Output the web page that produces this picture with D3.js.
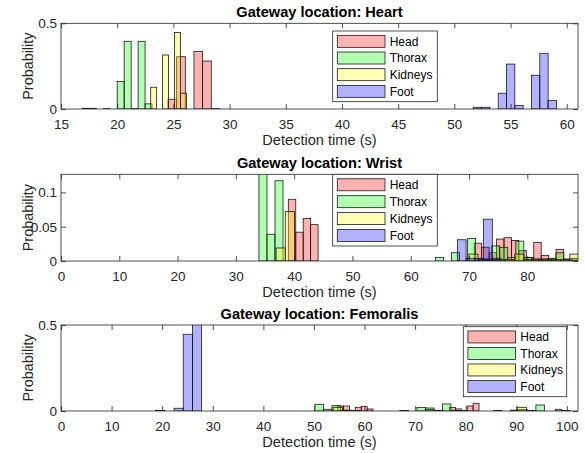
<!DOCTYPE html>
<html>
<head>
<meta charset="utf-8">
<script src="https://cdn.jsdelivr.net/npm/d3@7"></script>
<style>
  html, body { margin: 0; padding: 0; background: #fff; }
  svg { display: block; font-family: "Liberation Sans", Arial, Helvetica, sans-serif; }
</style>
</head>
<body>
<svg id="chart" width="585" height="453"></svg>
<script>
// ---------------- DATA ----------------
const categories = ["Head", "Thorax", "Kidneys", "Foot"];
const panelTitles = ["Gateway location: Heart", "Gateway location: Wrist", "Gateway location: Femoralis"];
const xLabel = "Detection time (s)";
const yLabel = "Probability";

// Heart: bin start / bin width per category, then probabilities per bin
const heartBinStart = [24.52, 16.9, 22.98, 51.68];
const heartBinWidth = [0.77, 0.62, 0.53, 0.74];
const heartHead    = [0.057, 0.305, 0, 0.335, 0.28, 0.002];
const heartThorax  = [0.004, 0.004, 0, 0.002, 0, 0.16, 0.395, 0.002, 0.395, 0.03];
const heartKidneys = [0.127, 0, 0.315, 0, 0.447, 0.092];
const heartFoot    = [0.01, 0.01, 0, 0.092, 0.262, 0.021, 0, 0.197, 0.325, 0.05];

// Wrist
const wristBinStart = [39.0, 33.96, 36.9, 68.0];
const wristBinWidth = [1.276, 1.377, 1.575, 1.5];
const wristHead = [0.09, 0.042, 0.062, 0.053, 0, 0, 0, 0, 0, 0, 0, 0, 0, 0, 0, 0, 0, 0, 0, 0, 0, 0, 0, 0, 0,
                   0.026, 0.02, 0.012, 0.032, 0.034, 0.03, 0.015, 0.005, 0.027, 0.008, 0.003, 0.017, 0.002, 0.004];
const wristThorax = [0.14, 0.039, 0.117, 0, 0, 0, 0, 0, 0, 0, 0, 0, 0, 0, 0, 0, 0, 0, 0, 0, 0, 0,
                     0.005, 0, 0.012, 0, 0.033, 0.003, 0.003, 0.022, 0.02, 0.005, 0.029, 0.005, 0.003, 0.003, 0.004, 0.012, 0.003, 0.003];
const wristKidneys = [0.019, 0.072, 0, 0, 0, 0, 0, 0, 0, 0, 0, 0, 0, 0, 0, 0, 0, 0, 0, 0, 0,
                      0.01, 0.002, 0.002, 0.002, 0.002, 0.01, 0.002, 0.002, 0.002, 0.002, 0.002, 0.01];
const wristFoot = [0.031, 0.004, 0.004, 0.061, 0.004];

// Femoralis
const femBinStart = [54.7, 50.2, 53.8, 18.7];
const femBinWidth = [1.164, 1.68, 1.82, 1.82];
const femHead = [0.029, 0.029, 0.003, 0.0215, 0.027, 0.0116, 0, 0, 0, 0, 0, 0, 0, 0, 0, 0, 0, 0, 0,
                 0.021, 0.012, 0.003, 0.029, 0.045, 0, 0, 0, 0, 0, 0, 0, 0, 0, 0, 0, 0, 0, 0.01, 0.002];
const femThorax = [0.039, 0.01, 0.031, 0.003, 0, 0, 0, 0, 0, 0, 0.003, 0, 0.021, 0.0174, 0.003, 0.041, 0.003, 0.003,
                   0, 0, 0, 0.003, 0, 0.005, 0.008, 0.003, 0.035, 0, 0, 0.003];
const femKidneys = [0.0215, 0.005, 0.003, 0, 0, 0, 0, 0, 0, 0, 0.008, 0.004, 0, 0, 0, 0, 0, 0, 0, 0, 0.0215, 0.003];
const femFoot = [0.004, 0, 0.016, 0.446, 0.52];

// Axis ticks
const heartXTicks = [15, 20, 25, 30, 35, 40, 45, 50, 55, 60];
const heartYTicks = [0, 0.5];
const wristXTicks = [0, 10, 20, 30, 40, 50, 60, 70, 80];
const wristYTicks = [0, 0.05, 0.1];
const femXTicks = [0, 10, 20, 30, 40, 50, 60, 70, 80, 90, 100];
const femYTicks = [0, 0.5];

// ---------------- LAYOUT / STYLE ----------------
const faceColors = ["rgb(255,0,0)", "rgb(0,255,0)", "rgb(255,255,0)", "rgb(0,0,255)"];
const faceAlpha = 0.3;
const axisColor = "#262626";

const panels = [
  { title: panelTitles[0], top: 23.3, bottom: 109, xDomain: [15, 61], yDomain: [0, 0.5],
    xTicks: heartXTicks, yTicks: heartYTicks,
    starts: heartBinStart, widths: heartBinWidth, values: [heartHead, heartThorax, heartKidneys, heartFoot],
    legend: { x: 332.7, y: 31, w: 104.6, h: 70.7 } },
  { title: panelTitles[1], top: 174.3, bottom: 261, xDomain: [0, 88.7], yDomain: [0, 0.1264],
    xTicks: wristXTicks, yTicks: wristYTicks,
    starts: wristBinStart, widths: wristBinWidth, values: [wristHead, wristThorax, wristKidneys, wristFoot],
    legend: { x: 332.7, y: 174.3, w: 104.6, h: 71.7 } },
  { title: panelTitles[2], top: 325, bottom: 411, xDomain: [0, 102.2], yDomain: [0, 0.5],
    xTicks: femXTicks, yTicks: femYTicks,
    starts: femBinStart, widths: femBinWidth, values: [femHead, femThorax, femKidneys, femFoot],
    legend: { x: 463.3, y: 326.7, w: 103.4, h: 70 } }
];

const left = 61, right = 578;
const svg = d3.select("#chart");

panels.forEach((p, pi) => {
  const x = d3.scaleLinear().domain(p.xDomain).range([left, right]);
  const y = d3.scaleLinear().domain(p.yDomain).range([p.bottom, p.top]);
  const g = svg.append("g");

  const clipId = "clip" + pi;
  svg.append("clipPath").attr("id", clipId).append("rect")
    .attr("x", left).attr("y", p.top).attr("width", right - left).attr("height", p.bottom - p.top);

  // bars
  const barsG = g.append("g").attr("clip-path", `url(#${clipId})`);
  p.values.forEach((vals, si) => {
    const data = vals.map((v, i) => ({
      x0: p.starts[si] + i * p.widths[si],
      x1: p.starts[si] + (i + 1) * p.widths[si],
      v: v
    }));
    barsG.append("g").selectAll("rect").data(data).join("rect")
      .attr("x", d => x(d.x0))
      .attr("width", d => x(d.x1) - x(d.x0))
      .attr("y", d => y(d.v))
      .attr("height", d => y(0) - y(d.v))
      .attr("fill", faceColors[si])
      .attr("fill-opacity", faceAlpha)
      .attr("stroke", "#1a1a1a")
      .attr("stroke-width", 0.8);
  });

  // axes box
  g.append("rect").attr("x", left).attr("y", p.top).attr("width", right - left).attr("height", p.bottom - p.top)
    .attr("fill", "none").attr("stroke", axisColor).attr("stroke-width", 0.8);

  const tickLen = 5;
  const xAxisB = d3.axisBottom(x).tickValues(p.xTicks).tickSizeInner(-tickLen).tickSizeOuter(0).tickPadding(8).tickFormat(d => d);
  const gxb = g.append("g").attr("transform", `translate(0,${p.bottom})`).call(xAxisB);
  const xAxisT = d3.axisTop(x).tickValues(p.xTicks).tickSizeInner(-tickLen).tickSizeOuter(0).tickFormat("");
  const gxt = g.append("g").attr("transform", `translate(0,${p.top})`).call(xAxisT);
  const yAxisL = d3.axisLeft(y).tickValues(p.yTicks).tickSizeInner(-tickLen).tickSizeOuter(0).tickPadding(8).tickFormat(d => d);
  const gyl = g.append("g").attr("transform", `translate(${left},0)`).call(yAxisL);
  const yAxisR = d3.axisRight(y).tickValues(p.yTicks).tickSizeInner(-tickLen).tickSizeOuter(0).tickFormat("");
  const gyr = g.append("g").attr("transform", `translate(${right},0)`).call(yAxisR);
  [gxb, gxt, gyl, gyr].forEach(a => {
    a.select(".domain").remove();
    a.selectAll("line").attr("stroke", axisColor).attr("stroke-width", 0.8);
    a.selectAll("text").attr("fill", axisColor).attr("font-size", 13.5)
      .attr("font-family", "Liberation Sans, Arial, sans-serif");
  });
  gxb.selectAll("text").attr("dy", "0.71em").attr("y", 10);
  gyl.selectAll("text").attr("x", -4);

  // title
  g.append("text").attr("x", (left + right) / 2).attr("y", p.top - 6)
    .attr("text-anchor", "middle").attr("font-weight", "bold").attr("font-size", 14.6)
    .attr("fill", "#000").text(p.title);
  // x label
  g.append("text").attr("x", (left + right) / 2).attr("y", p.bottom + 36)
    .attr("text-anchor", "middle").attr("font-size", 14.6).attr("fill", axisColor).text(xLabel);
  // y label
  g.append("text").attr("transform", `translate(33,${(p.top + p.bottom) / 2}) rotate(-90)`)
    .attr("text-anchor", "middle").attr("font-size", 14.4).attr("fill", axisColor).text(yLabel);

  // legend
  const L = p.legend;
  const lg = g.append("g");
  lg.append("rect").attr("x", L.x).attr("y", L.y).attr("width", L.w).attr("height", L.h)
    .attr("fill", "#fff").attr("stroke", axisColor).attr("stroke-width", 0.8);
  const rowH = (L.h - 4) / 4;
  categories.forEach((c, i) => {
    const cy = L.y + 2 + rowH * (i + 0.5);
    lg.append("rect").attr("x", L.x + 4.6).attr("y", cy - 6).attr("width", 47.7).attr("height", 12)
      .attr("fill", faceColors[i]).attr("fill-opacity", faceAlpha)
      .attr("stroke", "#1a1a1a").attr("stroke-width", 0.8);
    lg.append("text").attr("x", L.x + 57).attr("y", cy).attr("dy", "0.36em")
      .attr("font-size", 12).attr("fill", "#000").text(c);
  });
});
</script>
</body>
</html>
